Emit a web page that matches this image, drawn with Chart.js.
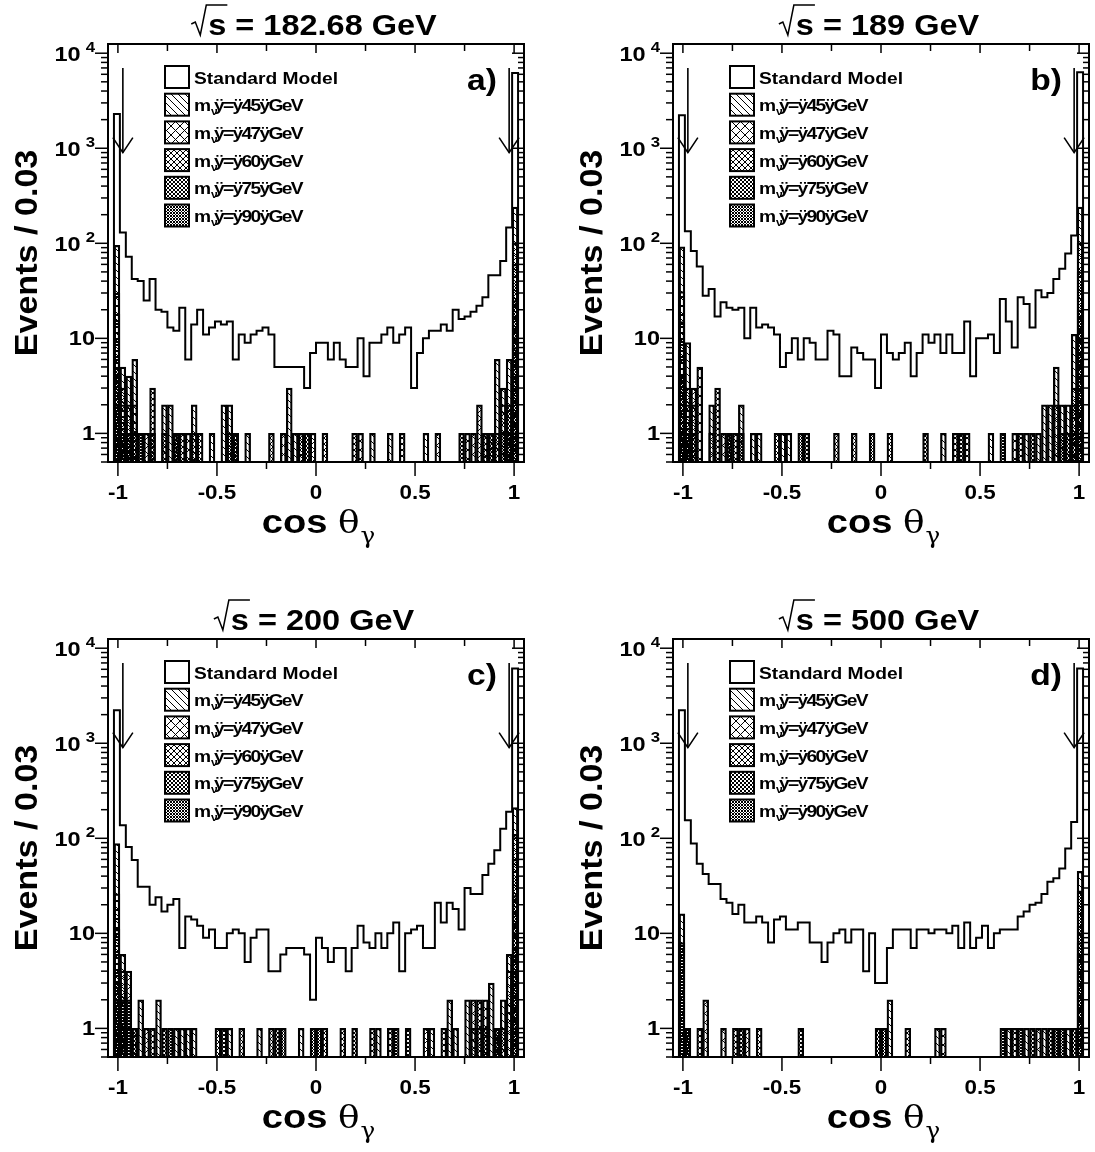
<!DOCTYPE html>
<html>
<head>
<meta charset="utf-8">
<script src="https://cdn.jsdelivr.net/npm/chart.js@4.4.1/dist/chart.umd.min.js"></script>
<style>
html, body { margin: 0; padding: 0; background: #fff; }
#wrap { position: relative; width: 1095px; height: 1152px; overflow: hidden; }
canvas { position: absolute; }
</style>
</head>
<body>
<div id="wrap">
  <canvas id="cA" width="530" height="557" style="left:0;top:0"></canvas>
  <canvas id="cB" width="530" height="557" style="left:565px;top:0"></canvas>
  <canvas id="cC" width="530" height="557" style="left:0;top:595px"></canvas>
  <canvas id="cD" width="530" height="557" style="left:565px;top:595px"></canvas>
</div>
<script>
// binning: 70 bins of 0.03 in cos(theta_gamma)
const xMin = -1.05;
const binWidth = 0.03;
const nBins = 70;
const yMin = 0.5;
const yMax = 12500;

const energies = ['182.68', '189', '200', '500'];
const panelTags = ['a)', 'b)', 'c)', 'd)'];
const massValues = ['45', '47', '60', '75', '90'];
const xTickLabels = [-1, -0.5, 0, 0.5, 1];
const yTickValues = [1, 10, 100, 1000, 10000];
const cutValues = [-0.975, 0.975];
const arrowRange = [7000, 900];

// Standard Model expectation, events per bin
const smA = [
  0, 2300, 130, 72, 42, 40, 25, 42, 20, 19,
  13, 12, 21, 6, 14, 20, 11, 13, 15, 14,
  15, 6, 11, 9, 11, 12, 13, 11, 5, 5,
  5, 5, 5, 3, 7, 9, 9, 6, 9, 6,
  5, 5, 10, 4, 9, 9, 11, 13, 9, 11,
  13, 3, 7, 10, 12, 12, 14, 12, 20, 16,
  17, 19, 22, 27, 46, 46, 65, 147, 6200, 0
];
const smB = [
  0, 2230, 134, 83, 57, 28, 33, 17, 24, 21,
  20, 21, 10, 21, 13, 14, 13, 11, 5, 7,
  10, 6, 10, 9, 6, 6, 12, 11, 4, 4,
  8, 7, 6, 6, 3, 11, 7, 6, 7, 9,
  4, 7, 11, 9, 11, 7, 11, 7, 7, 15,
  4, 10, 10, 11, 7, 26, 15, 8, 27, 23,
  13, 32, 27, 30, 42, 54, 78, 121, 6300, 0
];
const smC = [
  0, 2230, 137, 81, 59, 31, 31, 20, 24, 17,
  20, 23, 7, 15, 14, 12, 9, 11, 7, 7,
  10, 11, 10, 5, 9, 11, 11, 4, 4, 6,
  7, 7, 7, 6, 2, 9, 7, 5, 7, 7,
  4, 7, 12, 8, 7, 10, 7, 10, 13, 4,
  10, 11, 12, 7, 7, 21, 13, 21, 18, 11,
  30, 26, 26, 41, 54, 75, 126, 190, 6100, 0
];
const smD = [
  0, 2230, 155, 88, 54, 42, 33, 33, 23, 21,
  16, 20, 13, 13, 15, 13, 8, 14, 15, 11,
  11, 13, 13, 8, 8, 5, 8, 10, 11, 8,
  11, 11, 4, 10, 3, 3, 7, 11, 11, 11,
  7, 11, 11, 10, 11, 11, 10, 12, 7, 13,
  7, 9, 12, 7, 10, 11, 11, 11, 15, 17,
  20, 21, 26, 35, 38, 48, 78, 148, 6100, 0
];

// heavy neutrino signals, panel a
const m45A = [
  0, 95, 5, 4, 6, 0, 0, 0, 0, 2,
  2, 0, 0, 0, 2, 0, 0, 1, 0, 2,
  2, 0, 0, 1, 0, 0, 0, 0, 0, 0,
  3, 1, 1, 0, 0, 0, 0, 0, 0, 0,
  0, 0, 0, 0, 1, 0, 0, 1, 0, 0,
  0, 0, 0, 1, 0, 0, 0, 0, 0, 0,
  0, 0, 0, 1, 1, 6, 3, 6, 240, 0
];
const m47A = [
  0, 30, 3, 2, 2, 1, 1, 0, 0, 0,
  0, 0, 0, 1, 0, 0, 0, 0, 0, 0,
  0, 0, 0, 0, 0, 0, 0, 0, 0, 1,
  0, 0, 0, 0, 1, 0, 0, 0, 0, 0,
  0, 0, 1, 0, 0, 0, 0, 0, 0, 0,
  0, 0, 0, 0, 0, 1, 0, 0, 0, 0,
  1, 1, 2, 0, 0, 0, 2, 0, 100, 0
];
const m60A = [
  0, 18, 2, 1, 0, 0, 0, 3, 0, 1,
  0, 0, 1, 0, 1, 1, 0, 0, 0, 0,
  0, 0, 0, 0, 0, 0, 0, 1, 0, 0,
  0, 0, 1, 0, 0, 0, 1, 0, 0, 0,
  0, 1, 0, 0, 0, 0, 0, 0, 0, 1,
  0, 0, 0, 0, 0, 0, 0, 0, 0, 0,
  0, 0, 0, 1, 0, 1, 0, 1, 60, 0
];
const m75A = [
  0, 5, 1, 1, 1, 0, 0, 1, 0, 0,
  0, 1, 0, 0, 0, 0, 0, 0, 0, 0,
  0, 1, 0, 0, 0, 0, 0, 0, 0, 0,
  0, 0, 0, 1, 0, 0, 0, 0, 0, 0,
  0, 0, 0, 0, 0, 0, 0, 0, 0, 0,
  0, 0, 0, 0, 0, 0, 0, 0, 0, 1,
  0, 0, 0, 0, 1, 0, 0, 2, 25, 0
];
const m90A = [
  0, 2, 1, 0, 0, 1, 0, 0, 0, 0,
  0, 1, 0, 0, 0, 0, 0, 0, 0, 0,
  1, 1, 0, 0, 0, 0, 0, 0, 0, 0,
  0, 0, 0, 0, 0, 0, 0, 0, 0, 0,
  0, 0, 0, 0, 0, 0, 0, 0, 0, 0,
  0, 0, 0, 0, 0, 0, 0, 0, 0, 0,
  0, 0, 0, 0, 0, 0, 1, 1, 8, 0
];

// panel b
const m45B = [
  0, 92, 9, 2, 0, 0, 2, 0, 0, 0,
  0, 2, 0, 1, 1, 0, 0, 0, 1, 1,
  0, 0, 0, 0, 0, 0, 0, 0, 0, 0,
  0, 0, 0, 0, 0, 0, 0, 0, 0, 0,
  0, 0, 0, 0, 0, 1, 0, 0, 0, 0,
  0, 0, 0, 1, 0, 0, 0, 0, 0, 1,
  0, 1, 2, 2, 5, 2, 2, 11, 240, 0
];
const m47B = [
  0, 31, 3, 3, 5, 0, 1, 0, 1, 0,
  0, 0, 0, 0, 0, 0, 0, 0, 0, 0,
  0, 0, 0, 0, 0, 0, 0, 0, 0, 0,
  0, 0, 0, 0, 0, 0, 0, 0, 0, 0,
  0, 0, 0, 0, 0, 0, 0, 0, 0, 0,
  0, 0, 0, 0, 0, 0, 0, 1, 0, 0,
  0, 0, 0, 0, 2, 0, 0, 3, 100, 0
];
const m60B = [
  0, 15, 2, 0, 0, 0, 0, 3, 0, 0,
  1, 0, 0, 0, 0, 0, 0, 1, 0, 0,
  0, 0, 0, 0, 0, 0, 0, 1, 0, 0,
  1, 0, 0, 0, 0, 0, 1, 0, 0, 0,
  0, 0, 0, 0, 0, 0, 0, 1, 0, 1,
  0, 0, 0, 0, 0, 0, 0, 0, 1, 0,
  0, 0, 0, 0, 0, 0, 0, 2, 50, 0
];
const m75B = [
  0, 4, 1, 1, 0, 0, 0, 0, 0, 1,
  0, 0, 0, 0, 0, 0, 0, 0, 0, 0,
  0, 0, 1, 0, 0, 0, 0, 0, 0, 0,
  0, 0, 0, 0, 0, 0, 0, 0, 0, 0,
  0, 0, 1, 0, 0, 0, 0, 0, 1, 0,
  0, 0, 0, 0, 0, 0, 0, 0, 0, 0,
  1, 0, 0, 0, 0, 0, 1, 1, 20, 0
];
const m90B = [
  0, 1, 1, 0, 0, 0, 0, 0, 0, 1,
  0, 1, 0, 0, 0, 0, 0, 0, 0, 0,
  0, 1, 0, 0, 0, 0, 0, 0, 0, 0,
  0, 0, 0, 1, 0, 0, 0, 0, 0, 0,
  0, 0, 0, 0, 0, 0, 0, 0, 0, 0,
  0, 0, 0, 0, 0, 1, 0, 0, 0, 0,
  0, 0, 0, 0, 0, 1, 0, 0, 5, 0
];

// panel c
const m45C = [
  0, 88, 6, 0, 0, 2, 0, 0, 2, 0,
  0, 1, 1, 1, 1, 0, 0, 0, 0, 0,
  1, 0, 0, 0, 0, 1, 0, 0, 0, 0,
  0, 0, 1, 0, 0, 0, 0, 0, 0, 0,
  0, 0, 0, 0, 0, 1, 0, 0, 0, 0,
  0, 0, 0, 0, 1, 0, 0, 2, 1, 0,
  2, 1, 0, 0, 3, 1, 2, 6, 210, 0
];
const m47C = [
  0, 26, 4, 4, 1, 0, 1, 0, 0, 0,
  0, 0, 0, 0, 0, 0, 0, 0, 0, 0,
  0, 0, 0, 0, 0, 0, 0, 0, 0, 0,
  0, 0, 0, 0, 0, 0, 0, 0, 0, 0,
  0, 0, 0, 0, 0, 0, 0, 0, 0, 0,
  0, 0, 0, 1, 0, 0, 0, 0, 0, 0,
  0, 2, 1, 2, 0, 0, 0, 4, 110, 0
];
const m60C = [
  0, 11, 2, 1, 0, 0, 0, 1, 0, 0,
  0, 0, 0, 0, 0, 0, 0, 0, 1, 0,
  0, 0, 1, 0, 0, 0, 0, 1, 0, 0,
  0, 0, 0, 0, 0, 0, 1, 0, 0, 1,
  0, 0, 0, 0, 1, 0, 0, 1, 0, 0,
  0, 0, 0, 0, 0, 0, 1, 0, 0, 0,
  0, 0, 2, 0, 0, 0, 1, 0, 60, 0
];
const m75C = [
  0, 3, 1, 0, 1, 0, 0, 0, 0, 1,
  0, 0, 0, 0, 0, 0, 0, 0, 0, 1,
  0, 0, 0, 0, 0, 0, 0, 0, 1, 0,
  0, 0, 0, 0, 0, 0, 0, 0, 0, 0,
  0, 1, 0, 0, 0, 0, 0, 0, 0, 0,
  1, 0, 0, 0, 0, 0, 0, 0, 0, 0,
  0, 0, 0, 1, 0, 1, 0, 0, 25, 0
];
const m90C = [
  0, 2, 2, 2, 0, 0, 0, 0, 0, 0,
  1, 0, 0, 0, 0, 0, 0, 0, 0, 0,
  0, 0, 0, 0, 0, 0, 0, 0, 0, 1,
  0, 0, 0, 0, 1, 1, 0, 0, 0, 0,
  0, 0, 0, 0, 0, 0, 0, 0, 1, 0,
  0, 0, 0, 0, 0, 0, 0, 0, 0, 0,
  0, 0, 0, 0, 0, 1, 0, 0, 7, 0
];

// panel d
const m45D = [
  0, 16, 0, 0, 0, 0, 0, 0, 0, 0,
  0, 0, 0, 0, 0, 0, 0, 0, 0, 0,
  0, 0, 0, 0, 0, 0, 0, 0, 0, 0,
  0, 0, 0, 0, 0, 0, 2, 0, 0, 0,
  0, 0, 0, 0, 1, 0, 0, 0, 0, 0,
  0, 0, 0, 0, 0, 0, 1, 0, 0, 1,
  0, 0, 1, 0, 0, 0, 1, 0, 45, 0
];
const m47D = [
  0, 0, 0, 0, 0, 2, 0, 0, 1, 0,
  0, 0, 1, 0, 0, 0, 0, 0, 0, 0,
  0, 0, 0, 0, 0, 0, 0, 0, 0, 0,
  0, 0, 0, 0, 0, 0, 0, 0, 0, 0,
  0, 0, 0, 0, 0, 1, 0, 0, 0, 0,
  0, 0, 0, 0, 0, 0, 0, 0, 0, 0,
  0, 1, 0, 0, 0, 0, 0, 0, 12, 0
];
const m60D = [
  0, 0, 0, 0, 1, 0, 0, 0, 0, 0,
  1, 0, 0, 0, 1, 0, 0, 0, 0, 0,
  0, 0, 0, 0, 0, 0, 0, 0, 0, 0,
  0, 0, 0, 0, 0, 1, 0, 0, 0, 1,
  0, 0, 0, 0, 0, 0, 0, 0, 0, 0,
  0, 0, 0, 0, 0, 0, 0, 1, 0, 0,
  0, 0, 0, 0, 1, 0, 0, 0, 8, 0
];
const m75D = [
  0, 0, 1, 0, 0, 0, 0, 0, 0, 0,
  0, 1, 0, 0, 0, 0, 0, 0, 0, 0,
  0, 1, 0, 0, 0, 0, 0, 0, 0, 0,
  0, 0, 0, 0, 1, 0, 0, 0, 0, 0,
  0, 0, 0, 0, 0, 0, 0, 0, 0, 0,
  0, 0, 0, 0, 0, 0, 0, 0, 0, 0,
  1, 0, 0, 1, 0, 0, 0, 1, 6, 0
];
const m90D = [
  0, 8, 1, 0, 0, 0, 0, 0, 0, 0,
  0, 0, 0, 0, 0, 0, 0, 0, 0, 0,
  0, 0, 0, 0, 0, 0, 0, 0, 0, 0,
  0, 0, 0, 0, 0, 1, 0, 0, 0, 0,
  0, 0, 0, 0, 0, 0, 0, 0, 0, 0,
  0, 0, 0, 0, 0, 1, 0, 0, 1, 0,
  0, 0, 0, 0, 1, 1, 0, 0, 28, 0
];

const FONT = '"Liberation Sans", Arial, Helvetica, sans-serif';
const GREEK = '"DejaVu Serif", "Liberation Serif", serif';
const SX = 1.12; // the original text is drawn wide

function wideText(ctx, str, x, y, size, align, font, sx) {
  sx = sx || SX;
  ctx.font = font ? size + 'px ' + font : 'bold ' + size + 'px ' + FONT;
  const w = ctx.measureText(str).width * sx;
  let x0 = x;
  if (align === 'center') x0 = x - w / 2;
  else if (align === 'right') x0 = x - w;
  ctx.save();
  ctx.translate(x0, y);
  ctx.scale(sx, 1);
  ctx.textAlign = 'left';
  ctx.textBaseline = 'alphabetic';
  ctx.fillText(str, 0, 0);
  ctx.restore();
  return w;
}

function textWidth(ctx, str, size, font, sx) {
  ctx.font = font ? size + 'px ' + font : 'bold ' + size + 'px ' + FONT;
  return ctx.measureText(str).width * (sx || SX);
}

function hatch(step, dirs) {
  const c = document.createElement('canvas');
  c.width = c.height = step;
  const g = c.getContext('2d');
  g.strokeStyle = '#000';
  g.lineWidth = 1;
  g.beginPath();
  dirs.forEach(function (d) {
    for (let k = -1; k <= 1; k++) {
      if (d === 'down') { g.moveTo(k * step, 0); g.lineTo(k * step + step, step); }
      else { g.moveTo(k * step, step); g.lineTo(k * step + step, 0); }
    }
  });
  g.stroke();
  return g.createPattern(c, 'repeat');
}

const patterns = [
  hatch(7, ['down']),
  hatch(9, ['down', 'up']),
  hatch(6, ['down', 'up']),
  hatch(4, ['down', 'up']),
  hatch(3, ['down', 'up'])
];

function line(ctx, x1, y1, x2, y2) {
  ctx.beginPath();
  ctx.moveTo(x1, y1);
  ctx.lineTo(x2, y2);
  ctx.stroke();
}

const rootFrame = {
  id: 'rootFrame',
  afterDraw(chart, args, opts) {
    const ctx = chart.ctx;
    const a = chart.chartArea;
    const x = chart.scales.x, y = chart.scales.y;
    ctx.save();
    ctx.strokeStyle = '#000';
    ctx.fillStyle = '#000';

    // frame
    ctx.lineWidth = 2;
    ctx.strokeRect(a.left, a.top, a.right - a.left, a.bottom - a.top);

    // x ticks: bottom outside, top inside
    ctx.lineWidth = 1.5;
    for (let i = -4; i <= 4; i++) {
      const px = x.getPixelForValue(i * 0.25);
      const major = i % 2 === 0;
      line(ctx, px, a.bottom, px, a.bottom + (major ? 14 : 7));
      line(ctx, px, a.top, px, a.top + (major ? 9 : 7));
    }
    xTickLabels.forEach(function (v) {
      wideText(ctx, String(v), x.getPixelForValue(v), a.bottom + 37, 20, 'center');
    });

    // y ticks: left outside, right inside
    for (let e = -1; e <= 4; e++) {
      for (let m = 1; m <= 9; m++) {
        const v = m * Math.pow(10, e);
        if (v < yMin - 1e-9 || v > yMax) continue;
        const py = y.getPixelForValue(v);
        const major = m === 1;
        line(ctx, a.left - (major ? 13 : 7), py, a.left, py);
        line(ctx, a.right - (major ? 12 : 6), py, a.right, py);
      }
    }
    yTickValues.forEach(function (v) {
      const py = y.getPixelForValue(v);
      const exp = Math.round(Math.log10(v));
      const xr = a.left - 13;
      if (exp <= 1) {
        wideText(ctx, String(v), xr, py + 7, 21, 'right');
      } else {
        const ws = wideText(ctx, String(exp), xr, py - 1, 15, 'right');
        wideText(ctx, '10', xr - ws - 5, py + 8, 21, 'right');
      }
    });

    // axis titles
    ctx.save();
    ctx.translate(a.left - 71, (a.top + a.bottom) / 2);
    ctx.rotate(-Math.PI / 2);
    wideText(ctx, 'Events / 0.03', 0, 0, 31, 'center', null, 1.1);
    ctx.restore();

    const wCos = textWidth(ctx, 'cos ', 34);
    const wTh = textWidth(ctx, 'θ', 32, GREEK);
    const wGa = textWidth(ctx, 'γ', 22, GREEK);
    let tx = (a.left + a.right) / 2 + 2 - (wCos + wTh + wGa) / 2;
    const tb = a.bottom + 71;
    tx += wideText(ctx, 'cos ', tx, tb, 34, 'left');
    tx += wideText(ctx, 'θ', tx, tb, 32, 'left', GREEK);
    wideText(ctx, 'γ', tx + 1, tb + 10, 22, 'left', GREEK);

    // title with a radical over s
    const rest = 's = ' + opts.energy + ' GeV';
    const wRest = textWidth(ctx, rest, 29);
    const wS = textWidth(ctx, 's', 29);
    const rad = 17;
    const x0 = (a.left + a.right) / 2 - 2 - (rad + wRest) / 2;
    const base = a.top - 9;
    wideText(ctx, rest, x0 + rad, base, 29, 'left');
    ctx.lineWidth = 1.5;
    ctx.beginPath();
    ctx.moveTo(x0, base - 11);
    ctx.lineTo(x0 + 4, base - 13);
    ctx.lineTo(x0 + 9, base);
    ctx.lineTo(x0 + 15, base - 30);
    ctx.lineTo(x0 + rad + wS + 1, base - 30);
    ctx.stroke();

    // panel tag
    wideText(ctx, opts.tag, a.right - 27, a.top + 46, 30, 'right');

    // cut arrows
    ctx.lineWidth = 1.6;
    cutValues.forEach(function (c) {
      const px = x.getPixelForValue(c);
      const top = y.getPixelForValue(arrowRange[0]);
      const tip = y.getPixelForValue(arrowRange[1]);
      line(ctx, px, top, px, tip);
      ctx.beginPath();
      ctx.moveTo(px - 10, tip - 15);
      ctx.lineTo(px, tip);
      ctx.lineTo(px + 10, tip - 15);
      ctx.stroke();
    });

    // legend
    const lx = a.left + 57, ly = a.top + 22, pitch = 27.7;
    ctx.lineWidth = 2;
    ctx.strokeRect(lx, ly, 24, 22);
    wideText(ctx, 'Standard Model', lx + 29, ly + 17.5, 17, 'left', null, 1.13);
    massValues.forEach(function (m, k) {
      const top = ly + pitch * (k + 1);
      ctx.fillStyle = patterns[k];
      ctx.fillRect(lx, top, 24, 22);
      ctx.fillStyle = '#000';
      ctx.lineWidth = 2;
      ctx.strokeRect(lx, top, 24, 22);
      let px = lx + 29;
      const b = top + 17.5;
      px += wideText(ctx, 'm', px, b, 17, 'left', null, 1.13);
      wideText(ctx, 'ν', px, b + 4, 11, 'left', null, 1.1);
      px += 3;
      ctx.save();
      ctx.letterSpacing = '-1.5px';
      wideText(ctx, 'ÿ=ÿ' + m + 'ÿGeV', px, b, 17, 'left', null, 1.13);
      ctx.restore();
    });

    ctx.restore();
  }
};

const panels = [
  { id: 'cA', sm: smA, sig: [m45A, m47A, m60A, m75A, m90A] },
  { id: 'cB', sm: smB, sig: [m45B, m47B, m60B, m75B, m90B] },
  { id: 'cC', sm: smC, sig: [m45C, m47C, m60C, m75C, m90C] },
  { id: 'cD', sm: smD, sig: [m45D, m47D, m60D, m75D, m90D] }
];

panels.forEach(function (p, i) {
  const smPoints = p.sm.map(function (v, b) {
    return { x: xMin + binWidth * b, y: v > 0 ? v : yMin };
  });
  smPoints.push({ x: xMin + binWidth * nBins, y: yMin });

  const datasets = [{
    type: 'line',
    label: 'Standard Model',
    data: smPoints,
    borderColor: '#000',
    borderWidth: 2,
    pointRadius: 0,
    stepped: true,
    fill: false
  }];
  for (let k = massValues.length - 1; k >= 0; k--) {
    datasets.push({
      type: 'bar',
      label: 'm = ' + massValues[k] + ' GeV',
      data: p.sig[k].map(function (v, b) {
        return { x: xMin + binWidth * (b + 0.5), y: v > 0 ? v : null };
      }),
      backgroundColor: patterns[k],
      borderColor: '#000',
      borderWidth: 1.6,
      grouped: false,
      barPercentage: 1,
      categoryPercentage: 1
    });
  }

  new Chart(document.getElementById(p.id), {
    type: 'bar',
    data: { datasets: datasets },
    options: {
      responsive: false,
      animation: false,
      events: [],
      layout: { padding: { left: 108, right: 6, top: 44, bottom: 95 } },
      plugins: {
        legend: { display: false },
        tooltip: { enabled: false },
        rootFrame: { energy: energies[i], tag: panelTags[i] }
      },
      scales: {
        x: { type: 'linear', min: xMin, max: -xMin, offset: false, display: false },
        y: { type: 'logarithmic', min: yMin, max: yMax, display: false }
      }
    },
    plugins: [rootFrame]
  });
});
</script>
</body>
</html>
